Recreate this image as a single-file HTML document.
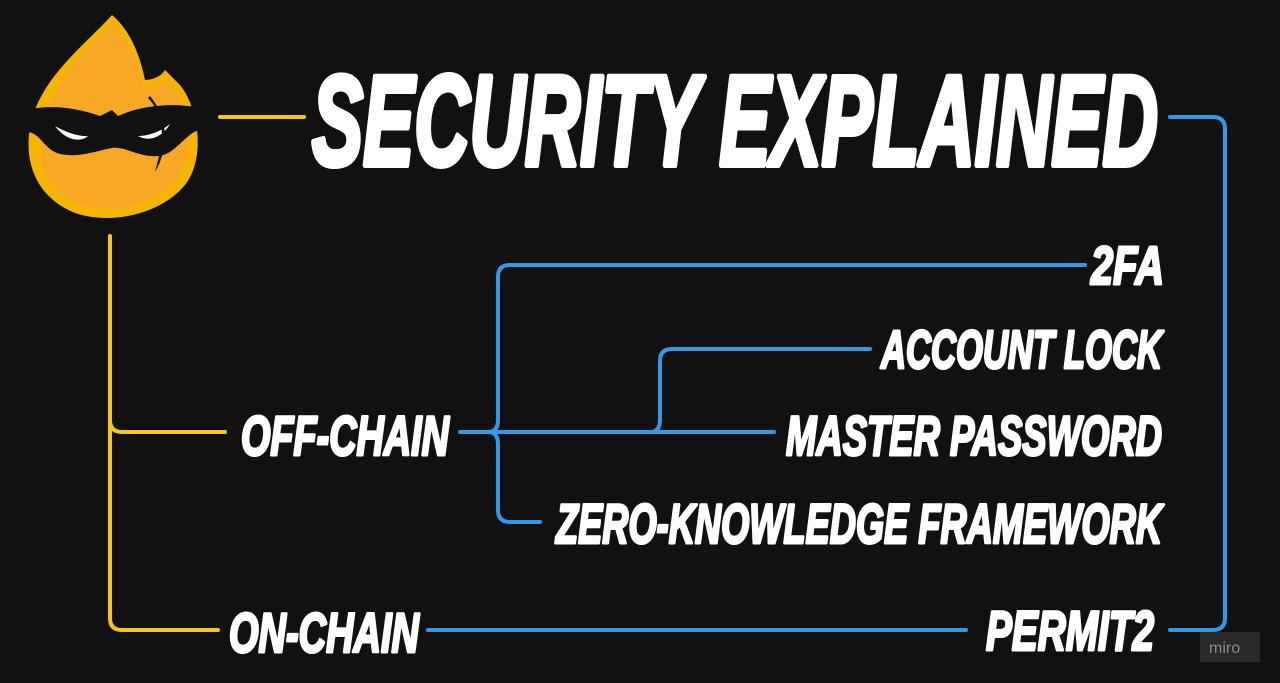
<!DOCTYPE html>
<html><head><style>
html,body{margin:0;padding:0;background:#111111;}
svg{display:block}
text{font-family:"Liberation Sans",sans-serif;font-weight:bold;font-style:italic;fill:#fff;stroke:#fff;stroke-width:3;stroke-linejoin:round;}
</style></head><body>
<svg width="1280" height="683" viewBox="0 0 1280 683">
<rect width="1280" height="683" fill="#111111"/>
<!-- logo -->
<path d="M112 15 C90 40 50 70 35 110 C20 150 30 195 75 213 C110 225 160 215 185 185 C205 160 200 110 180 85 L165 70 C160 78 150 80 145 80 C140 55 130 30 112 15 Z" fill="#f5b400"/>
<path d="M112 22 C92 45 58 75 45 112 C33 150 42 190 80 205 C112 215 155 207 177 180 C195 157 192 115 175 90 L165 80 C160 86 150 88 143 86 C138 60 128 38 112 22 Z" fill="#f9a825"/>
<path d="M26 110 C50 104 78 108 100 116 L112 110 L118 116 C140 106 172 102 201 108 L199 130 C185 134 175 155 158 156 C140 158 125 146 112 148 C95 151 80 158 60 154 C44 150 40 132 27 132 Z" fill="#111"/>
<path d="M55 126 C65 132 80 137 88 136 C80 143 65 140 55 126 Z" fill="#fff"/>
<path d="M170 124 C160 132 148 136 138 136 C148 142 162 138 170 124 Z" fill="#fff"/>
<path d="M148 98 C160 110 165 130 160 152 L155 172 C168 150 170 120 150 96 Z" fill="#111"/>
<!-- yellow connectors -->
<g stroke="#f5c518" stroke-width="4" fill="none" stroke-linecap="round">
<line x1="220" y1="117" x2="304" y2="117"/>
<path d="M110 236 V618 Q110 630 122 630 H218"/>
<path d="M110 420 Q110 432 122 432 H225"/>
</g>
<!-- blue connectors -->
<g stroke="#3498e3" stroke-width="4" fill="none" stroke-linecap="round">
<path d="M1170 117 H1213 Q1225 117 1225 129 V618 Q1225 630 1213 630 H1170"/>
<line x1="428" y1="630" x2="966" y2="630"/>
<path d="M460 432 H774"/>
<path d="M488 432 Q498 432 498 420 V277 Q498 265 510 265 H1085"/>
<path d="M488 432 Q498 432 498 444 V510 Q498 522 510 522 H540"/>
<path d="M650 432 Q660 432 660 420 V361 Q660 349 672 349 H870"/>
</g>
<!-- text -->
<text x="312" y="165" font-size="128" style="stroke-width:6" textLength="846" lengthAdjust="spacingAndGlyphs">SECURITY EXPLAINED</text>
<text x="1091" y="284" font-size="54" textLength="73" lengthAdjust="spacingAndGlyphs">2FA</text>
<text x="881" y="368" font-size="54" textLength="281" lengthAdjust="spacingAndGlyphs">ACCOUNT LOCK</text>
<text x="786" y="455" font-size="56" textLength="376" lengthAdjust="spacingAndGlyphs">MASTER PASSWORD</text>
<text x="241" y="455" font-size="56" textLength="208" lengthAdjust="spacingAndGlyphs">OFF-CHAIN</text>
<text x="556" y="543" font-size="56" textLength="606" lengthAdjust="spacingAndGlyphs">ZERO-KNOWLEDGE FRAMEWORK</text>
<text x="229" y="652" font-size="56" textLength="190" lengthAdjust="spacingAndGlyphs">ON-CHAIN</text>
<text x="986" y="650" font-size="56" textLength="168" lengthAdjust="spacingAndGlyphs">PERMIT2</text>
<!-- miro -->
<rect x="1200" y="632" width="60" height="30" fill="#2a2a2a"/>
<text x="1209" y="653" font-size="16" style="font-style:normal;font-weight:normal;fill:#888;stroke:none">miro</text>
</svg>
</body></html>
